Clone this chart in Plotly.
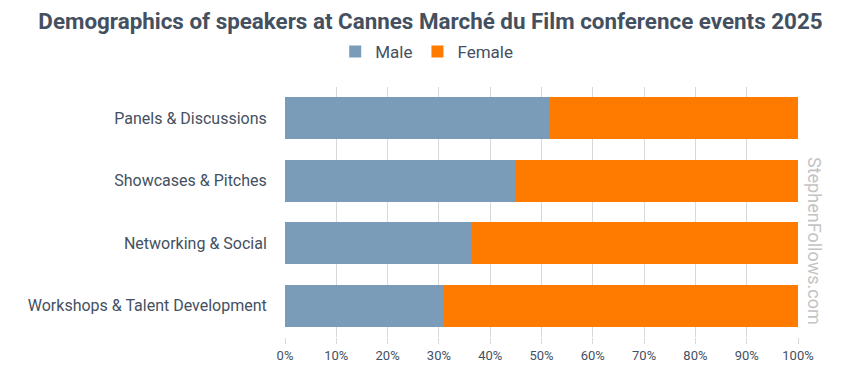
import plotly.graph_objects as go

categories = ["Panels & Discussions", "Showcases & Pitches", "Networking & Social", "Workshops & Talent Development"]
male = [51.6, 45.0, 36.3, 30.9]
female = [100 - v for v in male]
tick_vals = [0, 10, 20, 30, 40, 50, 60, 70, 80, 90, 100]
tick_text = [f"{v}%" for v in tick_vals]

fig = go.Figure()
fig.add_trace(go.Bar(y=categories, x=male, name="Male", orientation="h",
                     marker=dict(color="#7a9cb8", line=dict(width=0))))
fig.add_trace(go.Bar(y=categories, x=female, name="Female", orientation="h",
                     marker=dict(color="#ff7b00", line=dict(width=0))))

fig.update_layout(
    width=845, height=376,
    barmode="stack", bargap=0.33,
    plot_bgcolor="white", paper_bgcolor="white",
    font=dict(family="Roboto", color="#44505f"),
    margin=dict(l=277, r=55, t=79, b=47, autoexpand=False),
    title=dict(text="<b>Demographics of speakers at Cannes Marché du Film conference events 2025</b>",
               x=0.5, xref="container", xanchor="center", y=1 - 5 / 376, yref="container", yanchor="top",
               pad=dict(t=0, b=0),
               font=dict(family="Roboto", size=22.4, color="#44505f")),
    legend=dict(orientation="h", xref="container", x=0.4955, xanchor="center",
                yref="container", y=1 - 44 / 376, yanchor="middle",
                font=dict(size=17, color="#44505f"), itemwidth=30, traceorder="normal"),
    showlegend=True,
)
fig.update_xaxes(range=[0, 100], tickvals=tick_vals, ticktext=tick_text, showgrid=True,
                 gridcolor="#d9d9d9", gridwidth=1, zeroline=False,
                 tickfont=dict(size=13, color="#44505f"), ticks="outside", ticklen=6,
                 tickcolor="#d9d9d9", showline=False, fixedrange=True)
fig.update_yaxes(autorange="reversed", tickfont=dict(size=16, color="#44505f"),
                 ticks="outside", ticklen=14, tickcolor="white", showgrid=False)

fig.add_annotation(text="StephenFollows.com", xref="paper", yref="paper", x=1.0, xshift=17,
                   xanchor="center", yanchor="middle",
                   y=0.384, textangle=90, showarrow=False,
                   font=dict(family="Roboto", size=18, color="#c4c4c4"))

fig.write_html("out.html")
